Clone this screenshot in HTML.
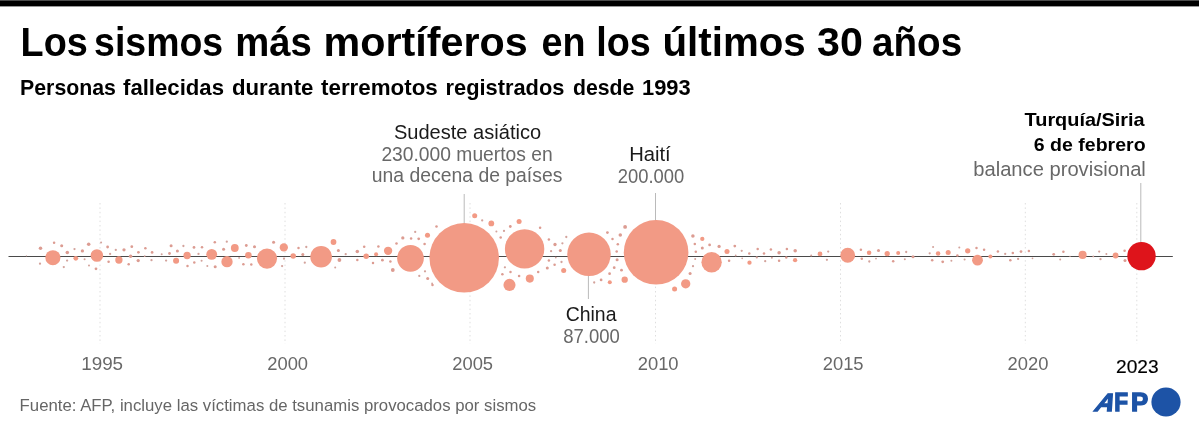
<!DOCTYPE html>
<html lang="es"><head><meta charset="utf-8"><title>Los sismos más mortíferos en los últimos 30 años</title>
<style>
html,body{margin:0;padding:0;background:#fff;}
body{width:1200px;height:429px;overflow:hidden;}
svg{display:block;font-family:"Liberation Sans",sans-serif;}
</style></head><body>
<svg width="1200" height="429" viewBox="0 0 1200 429">
<rect x="0" y="0" width="1200" height="429" fill="#fff"/>
<rect x="0" y="0" width="1199" height="6.4" fill="#000"/>
<rect x="0" y="0" width="1199" height="0.9" fill="#555"/>

<text y="56.4" font-size="41" font-weight="700" fill="#000"><tspan x="20.56" textLength="67.18" lengthAdjust="spacingAndGlyphs">Los</tspan> <tspan x="94.09" textLength="129.05" lengthAdjust="spacingAndGlyphs">sismos</tspan> <tspan x="235.13" textLength="76.62" lengthAdjust="spacingAndGlyphs">más</tspan> <tspan x="323.59" textLength="204.22" lengthAdjust="spacingAndGlyphs">mortíferos</tspan> <tspan x="541.48" textLength="44.0" lengthAdjust="spacingAndGlyphs">en</tspan> <tspan x="596.16" textLength="54.58" lengthAdjust="spacingAndGlyphs">los</tspan> <tspan x="662.53" textLength="143.25" lengthAdjust="spacingAndGlyphs">últimos</tspan> <tspan x="817.0" textLength="45.81" lengthAdjust="spacingAndGlyphs">30</tspan> <tspan x="872.06" textLength="90.1" lengthAdjust="spacingAndGlyphs">años</tspan></text>
<text y="94.5" font-size="22.3" font-weight="700" fill="#000"><tspan x="20.04" textLength="95.94" lengthAdjust="spacingAndGlyphs">Personas</tspan> <tspan x="123.0" textLength="101.0" lengthAdjust="spacingAndGlyphs">fallecidas</tspan> <tspan x="232.0" textLength="81.4" lengthAdjust="spacingAndGlyphs">durante</tspan> <tspan x="321.0" textLength="116.8" lengthAdjust="spacingAndGlyphs">terremotos</tspan> <tspan x="445.62" textLength="118.77" lengthAdjust="spacingAndGlyphs">registrados</tspan> <tspan x="573.0" textLength="61.38" lengthAdjust="spacingAndGlyphs">desde</tspan> <tspan x="642.02" textLength="48.67" lengthAdjust="spacingAndGlyphs">1993</tspan></text>
<line x1="100" y1="203" x2="100" y2="344" stroke="#dedede" stroke-width="1" stroke-dasharray="1.5 2.9"/>
<line x1="285" y1="203" x2="285" y2="344" stroke="#dedede" stroke-width="1" stroke-dasharray="1.5 2.9"/>
<line x1="470" y1="203" x2="470" y2="344" stroke="#dedede" stroke-width="1" stroke-dasharray="1.5 2.9"/>
<line x1="655.5" y1="203" x2="655.5" y2="344" stroke="#dedede" stroke-width="1" stroke-dasharray="1.5 2.9"/>
<line x1="840.5" y1="203" x2="840.5" y2="344" stroke="#dedede" stroke-width="1" stroke-dasharray="1.5 2.9"/>
<line x1="1025.3" y1="203" x2="1025.3" y2="344" stroke="#dedede" stroke-width="1" stroke-dasharray="1.5 2.9"/>
<line x1="1136.8" y1="203" x2="1136.8" y2="344" stroke="#dedede" stroke-width="1" stroke-dasharray="1.5 2.9"/>
<line x1="8.5" y1="256.5" x2="1172.8" y2="256.5" stroke="#4a4a4a" stroke-width="1"/>
<line x1="464.2" y1="194" x2="464.2" y2="225" stroke="#bababa" stroke-width="1"/>
<line x1="655.5" y1="193" x2="655.5" y2="222" stroke="#bababa" stroke-width="1"/>
<line x1="588.4" y1="274" x2="588.4" y2="299" stroke="#bababa" stroke-width="1"/>
<line x1="1140.8" y1="183" x2="1140.8" y2="243" stroke="#bababa" stroke-width="1"/>
<g fill="#f29a85">
<circle cx="464.2" cy="257.85" r="34.75"/>
<circle cx="524.6" cy="248.9" r="19.7"/>
<circle cx="589" cy="254.35" r="21.75"/>
<circle cx="656.1" cy="252.3" r="32.3"/>
<circle cx="711.6" cy="262.2" r="10.2"/>
<circle cx="26.4" cy="255.8" r="0.63" fill="#d3a39c"/>
<circle cx="40.5" cy="248.2" r="1.76" fill="#dc9c92"/>
<circle cx="54.1" cy="242.8" r="1.26" fill="#dc9c92"/>
<circle cx="52.9" cy="257.7" r="7.55"/>
<circle cx="61.7" cy="245.7" r="1.51" fill="#dc9c92"/>
<circle cx="40.0" cy="263.7" r="1.13" fill="#d3a39c"/>
<circle cx="67.3" cy="252.4" r="1.76" fill="#dc9c92"/>
<circle cx="67.1" cy="260.6" r="1.13" fill="#d3a39c"/>
<circle cx="63.8" cy="267.1" r="1.13" fill="#d3a39c"/>
<circle cx="74.5" cy="249.1" r="1.13" fill="#d3a39c"/>
<circle cx="75.8" cy="258.3" r="2.39"/>
<circle cx="82.4" cy="250.9" r="1.64" fill="#dc9c92"/>
<circle cx="84.6" cy="259.2" r="1.01" fill="#d3a39c"/>
<circle cx="88.7" cy="244.2" r="1.76" fill="#dc9c92"/>
<circle cx="96.9" cy="255.5" r="6.29"/>
<circle cx="101.1" cy="242.6" r="1.01" fill="#d3a39c"/>
<circle cx="89.0" cy="265.6" r="1.01" fill="#d3a39c"/>
<circle cx="96.0" cy="268.8" r="1.38" fill="#dc9c92"/>
<circle cx="107.6" cy="247.0" r="1.38" fill="#dc9c92"/>
<circle cx="110.1" cy="253.9" r="1.13" fill="#d3a39c"/>
<circle cx="108.6" cy="261.7" r="1.26" fill="#dc9c92"/>
<circle cx="115.8" cy="249.9" r="1.13" fill="#d3a39c"/>
<circle cx="118.9" cy="260.0" r="3.65"/>
<circle cx="124.0" cy="249.8" r="1.64" fill="#dc9c92"/>
<circle cx="131.8" cy="246.7" r="1.38" fill="#dc9c92"/>
<circle cx="130.6" cy="256.2" r="1.76" fill="#dc9c92"/>
<circle cx="128.7" cy="264.2" r="1.26" fill="#dc9c92"/>
<circle cx="138.4" cy="252.3" r="1.38" fill="#dc9c92"/>
<circle cx="138.2" cy="260.6" r="1.64" fill="#dc9c92"/>
<circle cx="145.4" cy="248.2" r="1.26" fill="#dc9c92"/>
<circle cx="144.7" cy="256.1" r="0.88" fill="#d3a39c"/>
<circle cx="152.1" cy="252.4" r="1.38" fill="#dc9c92"/>
<circle cx="151.5" cy="260.2" r="1.13" fill="#d3a39c"/>
<circle cx="161.7" cy="254.2" r="1.01" fill="#d3a39c"/>
<circle cx="166.1" cy="260.6" r="1.13" fill="#d3a39c"/>
<circle cx="169.5" cy="253.5" r="1.38" fill="#dc9c92"/>
<circle cx="171.1" cy="245.7" r="1.51" fill="#dc9c92"/>
<circle cx="177.4" cy="251.0" r="1.51" fill="#dc9c92"/>
<circle cx="176.1" cy="260.8" r="3.02"/>
<circle cx="183.4" cy="246.0" r="1.13" fill="#d3a39c"/>
<circle cx="187.1" cy="255.5" r="3.65"/>
<circle cx="187.5" cy="266.1" r="1.26" fill="#dc9c92"/>
<circle cx="194.0" cy="247.4" r="1.38" fill="#dc9c92"/>
<circle cx="194.3" cy="262.5" r="1.26" fill="#dc9c92"/>
<circle cx="198.5" cy="253.9" r="1.13" fill="#d3a39c"/>
<circle cx="202.0" cy="247.2" r="1.26" fill="#dc9c92"/>
<circle cx="201.6" cy="260.8" r="1.01" fill="#d3a39c"/>
<circle cx="207.3" cy="266.1" r="1.01" fill="#d3a39c"/>
<circle cx="211.7" cy="254.3" r="5.41"/>
<circle cx="214.8" cy="242.2" r="1.26" fill="#dc9c92"/>
<circle cx="215.2" cy="266.7" r="1.51" fill="#dc9c92"/>
<circle cx="223.6" cy="249.3" r="1.51" fill="#dc9c92"/>
<circle cx="226.8" cy="241.7" r="1.13" fill="#d3a39c"/>
<circle cx="227.0" cy="261.7" r="5.66"/>
<circle cx="234.8" cy="248.0" r="3.9"/>
<circle cx="239.1" cy="257.9" r="0.88" fill="#d3a39c"/>
<circle cx="243.4" cy="264.2" r="1.26" fill="#dc9c92"/>
<circle cx="246.3" cy="245.5" r="1.38" fill="#dc9c92"/>
<circle cx="248.4" cy="255.2" r="3.27"/>
<circle cx="251.3" cy="264.4" r="1.26" fill="#dc9c92"/>
<circle cx="254.5" cy="246.7" r="1.51" fill="#dc9c92"/>
<circle cx="267.0" cy="258.6" r="10.07"/>
<circle cx="273.6" cy="242.3" r="1.51" fill="#dc9c92"/>
<circle cx="283.8" cy="247.4" r="4.15"/>
<circle cx="284.0" cy="258.7" r="1.13" fill="#d3a39c"/>
<circle cx="282.1" cy="266.1" r="1.13" fill="#d3a39c"/>
<circle cx="293.2" cy="256.1" r="2.77"/>
<circle cx="298.5" cy="248.0" r="1.26" fill="#dc9c92"/>
<circle cx="302.8" cy="254.5" r="1.51" fill="#dc9c92"/>
<circle cx="306.3" cy="247.0" r="1.13" fill="#d3a39c"/>
<circle cx="304.8" cy="262.7" r="1.13" fill="#d3a39c"/>
<circle cx="321.1" cy="256.7" r="10.82"/>
<circle cx="333.5" cy="242.0" r="2.89"/>
<circle cx="338.4" cy="250.5" r="1.51" fill="#dc9c92"/>
<circle cx="339.4" cy="260.0" r="1.89" fill="#dc9c92"/>
<circle cx="335.2" cy="267.4" r="1.01" fill="#d3a39c"/>
<circle cx="345.7" cy="254.2" r="1.13" fill="#d3a39c"/>
<circle cx="357.3" cy="251.4" r="1.76" fill="#dc9c92"/>
<circle cx="357.3" cy="260.0" r="1.26" fill="#dc9c92"/>
<circle cx="364.2" cy="246.7" r="1.26" fill="#dc9c92"/>
<circle cx="366.2" cy="256.2" r="2.77"/>
<circle cx="373.0" cy="263.0" r="1.26" fill="#dc9c92"/>
<circle cx="376.1" cy="254.2" r="2.01"/>
<circle cx="378.4" cy="246.4" r="1.26" fill="#dc9c92"/>
<circle cx="382.4" cy="260.2" r="1.38" fill="#dc9c92"/>
<circle cx="388.1" cy="250.8" r="4.15"/>
<circle cx="390.4" cy="261.5" r="1.26" fill="#dc9c92"/>
<circle cx="392.8" cy="270.0" r="1.89" fill="#dc9c92"/>
<circle cx="396.5" cy="243.6" r="1.26" fill="#dc9c92"/>
<circle cx="402.8" cy="237.9" r="1.64" fill="#dc9c92"/>
<circle cx="410.5" cy="258.3" r="13.34"/>
<circle cx="411.1" cy="238.4" r="1.26" fill="#dc9c92"/>
<circle cx="415.2" cy="231.9" r="1.13" fill="#d3a39c"/>
<circle cx="418.7" cy="238.8" r="1.38" fill="#dc9c92"/>
<circle cx="424.6" cy="244.1" r="1.26" fill="#dc9c92"/>
<circle cx="427.5" cy="235.3" r="2.52"/>
<circle cx="425.0" cy="271.3" r="1.13" fill="#d3a39c"/>
<circle cx="419.3" cy="275.9" r="1.13" fill="#d3a39c"/>
<circle cx="427.7" cy="278.5" r="1.51" fill="#dc9c92"/>
<circle cx="432.1" cy="283.5" r="0.88" fill="#d3a39c"/>
<circle cx="436.5" cy="226.5" r="1.26" fill="#dc9c92"/>
<circle cx="474.7" cy="215.8" r="2.52"/>
<circle cx="482.2" cy="220.4" r="1.13" fill="#d3a39c"/>
<circle cx="491.3" cy="223.4" r="2.89"/>
<circle cx="496.4" cy="231.6" r="1.01" fill="#d3a39c"/>
<circle cx="504.0" cy="230.9" r="1.13" fill="#d3a39c"/>
<circle cx="500.7" cy="237.6" r="1.26" fill="#dc9c92"/>
<circle cx="510.3" cy="226.5" r="1.38" fill="#dc9c92"/>
<circle cx="519.1" cy="221.6" r="2.52"/>
<circle cx="540.1" cy="227.8" r="1.26" fill="#dc9c92"/>
<circle cx="548.9" cy="239.5" r="1.26" fill="#dc9c92"/>
<circle cx="555.0" cy="244.5" r="1.64" fill="#dc9c92"/>
<circle cx="562.4" cy="243.3" r="1.13" fill="#d3a39c"/>
<circle cx="566.3" cy="237.0" r="1.13" fill="#d3a39c"/>
<circle cx="551.1" cy="251.2" r="1.13" fill="#d3a39c"/>
<circle cx="560.3" cy="250.6" r="1.51" fill="#dc9c92"/>
<circle cx="432.5" cy="284.9" r="1.26" fill="#dc9c92"/>
<circle cx="504.9" cy="267.3" r="1.13" fill="#d3a39c"/>
<circle cx="502.4" cy="274.2" r="1.26" fill="#dc9c92"/>
<circle cx="510.5" cy="272.1" r="1.26" fill="#dc9c92"/>
<circle cx="509.5" cy="284.9" r="6.04"/>
<circle cx="519.1" cy="275.9" r="1.26" fill="#dc9c92"/>
<circle cx="529.8" cy="278.6" r="4.03"/>
<circle cx="538.2" cy="272.1" r="1.26" fill="#dc9c92"/>
<circle cx="547.3" cy="267.9" r="1.51" fill="#dc9c92"/>
<circle cx="548.9" cy="260.4" r="1.26" fill="#dc9c92"/>
<circle cx="554.6" cy="264.8" r="1.26" fill="#dc9c92"/>
<circle cx="561.5" cy="262.0" r="1.13" fill="#d3a39c"/>
<circle cx="563.7" cy="270.5" r="2.52"/>
<circle cx="555.8" cy="257.6" r="0.88" fill="#d3a39c"/>
<circle cx="607.4" cy="232.6" r="1.38" fill="#dc9c92"/>
<circle cx="625.1" cy="226.9" r="1.89" fill="#dc9c92"/>
<circle cx="612.5" cy="238.9" r="1.26" fill="#dc9c92"/>
<circle cx="620.3" cy="235.1" r="1.76" fill="#dc9c92"/>
<circle cx="617.8" cy="244.2" r="1.26" fill="#dc9c92"/>
<circle cx="616.7" cy="251.5" r="1.26" fill="#dc9c92"/>
<circle cx="692.9" cy="236.0" r="1.76" fill="#dc9c92"/>
<circle cx="702.3" cy="238.9" r="2.14"/>
<circle cx="694.8" cy="243.9" r="1.26" fill="#dc9c92"/>
<circle cx="702.3" cy="247.9" r="1.51" fill="#dc9c92"/>
<circle cx="709.6" cy="244.9" r="1.38" fill="#dc9c92"/>
<circle cx="695.8" cy="251.7" r="1.26" fill="#dc9c92"/>
<circle cx="719.1" cy="246.4" r="1.64" fill="#dc9c92"/>
<circle cx="727.0" cy="251.5" r="2.52"/>
<circle cx="617.1" cy="259.8" r="1.51" fill="#dc9c92"/>
<circle cx="614.2" cy="267.7" r="1.38" fill="#dc9c92"/>
<circle cx="621.5" cy="270.2" r="1.38" fill="#dc9c92"/>
<circle cx="609.6" cy="273.7" r="1.38" fill="#dc9c92"/>
<circle cx="601.1" cy="279.9" r="1.38" fill="#dc9c92"/>
<circle cx="594.2" cy="282.5" r="1.13" fill="#d3a39c"/>
<circle cx="609.8" cy="282.2" r="2.01"/>
<circle cx="624.7" cy="279.7" r="3.15"/>
<circle cx="674.6" cy="289.1" r="2.52"/>
<circle cx="685.7" cy="283.8" r="4.66"/>
<circle cx="690.1" cy="273.4" r="1.51" fill="#dc9c92"/>
<circle cx="693.0" cy="266.2" r="1.13" fill="#d3a39c"/>
<circle cx="695.2" cy="259.1" r="1.01" fill="#d3a39c"/>
<circle cx="729.1" cy="260.8" r="1.26" fill="#dc9c92"/>
<circle cx="734.8" cy="246.1" r="1.38" fill="#dc9c92"/>
<circle cx="735.7" cy="255.5" r="0.88" fill="#d3a39c"/>
<circle cx="741.7" cy="250.8" r="1.13" fill="#d3a39c"/>
<circle cx="742.2" cy="258.3" r="0.88" fill="#d3a39c"/>
<circle cx="749.3" cy="253.5" r="1.26" fill="#dc9c92"/>
<circle cx="749.5" cy="262.7" r="2.14"/>
<circle cx="757.7" cy="249.1" r="1.26" fill="#dc9c92"/>
<circle cx="756.8" cy="257.4" r="1.13" fill="#d3a39c"/>
<circle cx="764.0" cy="253.5" r="1.26" fill="#dc9c92"/>
<circle cx="765.2" cy="261.2" r="1.13" fill="#d3a39c"/>
<circle cx="770.9" cy="249.5" r="1.26" fill="#dc9c92"/>
<circle cx="771.9" cy="257.7" r="1.01" fill="#d3a39c"/>
<circle cx="779.1" cy="252.7" r="1.76" fill="#dc9c92"/>
<circle cx="779.1" cy="260.8" r="1.26" fill="#dc9c92"/>
<circle cx="786.9" cy="249.1" r="1.26" fill="#dc9c92"/>
<circle cx="786.3" cy="257.4" r="1.26" fill="#dc9c92"/>
<circle cx="795.2" cy="250.8" r="1.76" fill="#dc9c92"/>
<circle cx="795.1" cy="260.2" r="2.14"/>
<circle cx="811.2" cy="255.5" r="1.01" fill="#d3a39c"/>
<circle cx="820.0" cy="253.9" r="2.39"/>
<circle cx="828.2" cy="251.6" r="1.13" fill="#d3a39c"/>
<circle cx="826.9" cy="259.8" r="1.13" fill="#d3a39c"/>
<circle cx="847.7" cy="255.2" r="7.43"/>
<circle cx="860.9" cy="249.8" r="1.26" fill="#dc9c92"/>
<circle cx="861.8" cy="258.7" r="1.26" fill="#dc9c92"/>
<circle cx="869.1" cy="252.7" r="2.27"/>
<circle cx="869.3" cy="261.5" r="1.13" fill="#d3a39c"/>
<circle cx="876.0" cy="258.6" r="0.88" fill="#d3a39c"/>
<circle cx="878.5" cy="250.4" r="1.51" fill="#dc9c92"/>
<circle cx="887.2" cy="253.7" r="2.64"/>
<circle cx="893.2" cy="261.2" r="1.26" fill="#dc9c92"/>
<circle cx="898.2" cy="253.0" r="2.01"/>
<circle cx="904.8" cy="259.3" r="1.01" fill="#d3a39c"/>
<circle cx="906.2" cy="252.0" r="1.13" fill="#d3a39c"/>
<circle cx="913.0" cy="256.8" r="1.51" fill="#dc9c92"/>
<circle cx="929.7" cy="253.3" r="1.13" fill="#d3a39c"/>
<circle cx="933.1" cy="247.0" r="1.01" fill="#d3a39c"/>
<circle cx="932.2" cy="260.2" r="1.26" fill="#dc9c92"/>
<circle cx="938.1" cy="253.5" r="2.27"/>
<circle cx="942.7" cy="261.8" r="1.38" fill="#dc9c92"/>
<circle cx="948.2" cy="252.4" r="2.52"/>
<circle cx="951.4" cy="260.8" r="1.01" fill="#d3a39c"/>
<circle cx="957.4" cy="255.5" r="1.26" fill="#dc9c92"/>
<circle cx="959.3" cy="247.6" r="1.01" fill="#d3a39c"/>
<circle cx="964.6" cy="259.6" r="1.01" fill="#d3a39c"/>
<circle cx="967.7" cy="250.8" r="2.64"/>
<circle cx="976.5" cy="247.9" r="1.26" fill="#dc9c92"/>
<circle cx="977.5" cy="260.2" r="5.41"/>
<circle cx="984.1" cy="249.8" r="1.26" fill="#dc9c92"/>
<circle cx="990.4" cy="256.4" r="2.01"/>
<circle cx="997.9" cy="251.4" r="1.26" fill="#dc9c92"/>
<circle cx="1005.2" cy="253.9" r="1.13" fill="#d3a39c"/>
<circle cx="1010.3" cy="260.2" r="1.26" fill="#dc9c92"/>
<circle cx="1012.8" cy="252.9" r="1.26" fill="#dc9c92"/>
<circle cx="1018.1" cy="258.9" r="1.13" fill="#d3a39c"/>
<circle cx="1021.0" cy="251.6" r="1.38" fill="#dc9c92"/>
<circle cx="1028.9" cy="251.1" r="1.26" fill="#dc9c92"/>
<circle cx="1032.5" cy="258.3" r="0.88" fill="#d3a39c"/>
<circle cx="1053.7" cy="254.3" r="1.38" fill="#dc9c92"/>
<circle cx="1060.2" cy="259.6" r="1.01" fill="#d3a39c"/>
<circle cx="1063.4" cy="251.8" r="1.26" fill="#dc9c92"/>
<circle cx="1070.0" cy="256.4" r="0.63" fill="#d3a39c"/>
<circle cx="1082.6" cy="254.9" r="4.03"/>
<circle cx="1093.3" cy="256.4" r="0.88" fill="#d3a39c"/>
<circle cx="1099.2" cy="251.6" r="1.13" fill="#d3a39c"/>
<circle cx="1100.5" cy="259.2" r="1.13" fill="#d3a39c"/>
<circle cx="1106.4" cy="253.9" r="1.01" fill="#d3a39c"/>
<circle cx="1115.6" cy="255.5" r="2.89"/>
<circle cx="1124.6" cy="250.8" r="1.26" fill="#dc9c92"/>
<circle cx="1125.0" cy="260.5" r="1.51" fill="#dc9c92"/>
</g>
<circle cx="1141.5" cy="256.1" r="14.2" fill="#de141b"/>
<text x="393.9" y="138.9" font-size="19.3" font-weight="400" fill="#1a1a1a" textLength="147.25" lengthAdjust="spacingAndGlyphs">Sudeste asiático</text>
<text x="381.4" y="161" font-size="19.3" font-weight="400" fill="#686868" textLength="171.32" lengthAdjust="spacingAndGlyphs">230.000 muertos en</text>
<text x="371.8" y="182.3" font-size="19.3" font-weight="400" fill="#686868" textLength="190.55" lengthAdjust="spacingAndGlyphs">una decena de países</text>
<text x="629.15" y="160.8" font-size="19.3" font-weight="400" fill="#1a1a1a" textLength="41.57" lengthAdjust="spacingAndGlyphs">Haití</text>
<text x="617.7" y="182.8" font-size="19.3" font-weight="400" fill="#686868" textLength="66.49" lengthAdjust="spacingAndGlyphs">200.000</text>
<text x="565.7" y="320.7" font-size="19.3" font-weight="400" fill="#1a1a1a" textLength="50.82" lengthAdjust="spacingAndGlyphs">China</text>
<text x="563.3" y="342.7" font-size="19.3" font-weight="400" fill="#686868" textLength="56.59" lengthAdjust="spacingAndGlyphs">87.000</text>
<text x="1024.6" y="126.2" font-size="19" font-weight="700" fill="#000" textLength="119.95" lengthAdjust="spacingAndGlyphs">Turquía/Siria</text>
<text x="1033.8" y="151" font-size="19" font-weight="700" fill="#000" textLength="111.82" lengthAdjust="spacingAndGlyphs">6 de febrero</text>
<text x="973.25" y="175.9" font-size="19.3" font-weight="400" fill="#686868" textLength="172.59" lengthAdjust="spacingAndGlyphs">balance provisional</text>
<text x="81.18" y="370.4" font-size="18.5" font-weight="400" fill="#686868" textLength="41.91" lengthAdjust="spacingAndGlyphs">1995</text>
<text x="267.2" y="370.4" font-size="18.5" font-weight="400" fill="#686868" textLength="40.89" lengthAdjust="spacingAndGlyphs">2000</text>
<text x="452.2" y="370.4" font-size="18.5" font-weight="400" fill="#686868" textLength="40.89" lengthAdjust="spacingAndGlyphs">2005</text>
<text x="637.7" y="370.4" font-size="18.5" font-weight="400" fill="#686868" textLength="40.89" lengthAdjust="spacingAndGlyphs">2010</text>
<text x="822.7" y="370.4" font-size="18.5" font-weight="400" fill="#686868" textLength="40.89" lengthAdjust="spacingAndGlyphs">2015</text>
<text x="1007.5" y="370.4" font-size="18.5" font-weight="400" fill="#686868" textLength="40.89" lengthAdjust="spacingAndGlyphs">2020</text>
<text x="1116.0" y="373.2" font-size="18.8" font-weight="400" fill="#000" textLength="42.55" lengthAdjust="spacingAndGlyphs" stroke="#000" stroke-width="0.15">2023</text>
<text x="19.6" y="410.6" font-size="16.7" font-weight="400" fill="#666" textLength="516.65" lengthAdjust="spacingAndGlyphs">Fuente: AFP, incluye las víctimas de tsunamis provocados por sismos</text>
<g fill="#1d53a6" stroke="#1d53a6" stroke-width="1.3" stroke-linejoin="miter" font-weight="700" font-size="25">
<text transform="translate(1092.9,410.5) skewX(-24)" x="0" y="0" textLength="18.9" lengthAdjust="spacingAndGlyphs">A</text>
<text y="410.5"><tspan x="1114.3" textLength="13.8" lengthAdjust="spacingAndGlyphs">F</tspan><tspan x="1131" textLength="17.2" lengthAdjust="spacingAndGlyphs">P</tspan></text>
</g>
<circle cx="1166" cy="402" r="14.6" fill="#1d53a6"/>
</svg></body></html>
